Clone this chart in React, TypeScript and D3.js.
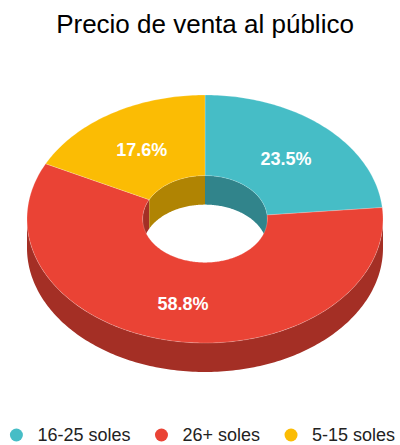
import React, { useEffect, useRef } from "react";
import * as d3 from "d3";

const categories = ["16-25 soles", "26+ soles", "5-15 soles"];
const values = [4, 10, 3];
const colors = ["#46BDC6", "#EA4335", "#FBBC04"];
const title = "Precio de venta al público";

const W = 400;
const H = 445;
const CX = 205;
const CY = 219;
const RX = 178;
const RY = 124;
const DEPTH = 29;
const INNER = 0.35;
const FONT = "'Liberation Sans', Arial, Helvetica, sans-serif";

function pt(a: number, rx: number, ry: number, dy: number): [number, number] {
  return [CX + rx * Math.sin(a), CY - ry * Math.cos(a) + dy];
}

function arcPts(a0: number, a1: number, rx: number, ry: number, dy: number) {
  const n = Math.max(2, Math.ceil(Math.abs(a1 - a0) / (Math.PI / 180)));
  const out: [number, number][] = [];
  for (let i = 0; i <= n; i++) {
    const a = a0 + ((a1 - a0) * i) / n;
    out.push(pt(a, rx, ry, dy));
  }
  return out;
}

const line = d3.line();

function bandPath(a0: number, a1: number, rxA: number, ryA: number, dyA: number, rxB: number, ryB: number, dyB: number) {
  const p = arcPts(a0, a1, rxA, ryA, dyA).concat(arcPts(a1, a0, rxB, ryB, dyB));
  return line(p) + "Z";
}

export default function App() {
  const ref = useRef<SVGSVGElement>(null);

  useEffect(() => {
    const svg = d3.select(ref.current);
    svg.selectAll("*").remove();

    const total = d3.sum(values);
    const pie = d3.pie<number>().sort(null).startAngle(0).endAngle(2 * Math.PI);
    const arcs = pie(values);
    const darker = (c: string) => {
      const k = d3.rgb(c);
      return d3.rgb(k.r * 0.7, k.g * 0.7, k.b * 0.7).toString();
    };

    const rxi = RX * INNER;
    const ryi = RY * INNER;

    const g = svg.append("g");
    // inner back walls
    arcs.forEach((d, i) => {
      const ranges: [number, number][] = [
        [0, Math.PI / 2],
        [1.5 * Math.PI, 2 * Math.PI],
      ];
      ranges.forEach(([r0, r1]) => {
        const a0 = Math.max(d.startAngle, r0);
        const a1 = Math.min(d.endAngle, r1);
        if (a1 > a0) {
          g.append("path")
            .attr("d", bandPath(a0, a1, rxi, ryi, 0, rxi, ryi, DEPTH))
            .attr("fill", darker(colors[i]));
        }
      });
    });

    // outer front walls
    arcs.forEach((d, i) => {
      const a0 = Math.max(d.startAngle, Math.PI / 2);
      const a1 = Math.min(d.endAngle, 1.5 * Math.PI);
      if (a1 > a0) {
        g.append("path")
          .attr("d", bandPath(a0, a1, RX, RY, 0, RX, RY, DEPTH))
          .attr("fill", darker(colors[i]));
      }
    });

    // top surfaces
    arcs.forEach((d, i) => {
      g.append("path")
        .attr("d", bandPath(d.startAngle, d.endAngle, RX, RY, 0, rxi, ryi, 0))
        .attr("fill", colors[i])
        .attr("stroke", "rgba(255,255,255,0.35)")
        .attr("stroke-width", 0.6);
    });

    // labels
    const lf = (1 + INNER) / 2;
    arcs.forEach((d, i) => {
      const m = (d.startAngle + d.endAngle) / 2;
      const [x, y] = pt(m, RX * lf, RY * lf, 0);
      g.append("text")
        .attr("x", x)
        .attr("y", y)
        .attr("dy", "0.46em")
        .attr("text-anchor", "middle")
        .attr("font-family", FONT)
        .attr("font-weight", "bold")
        .attr("font-size", 18)
        .attr("fill", "#fff")
        .text(d3.format(".1%")(values[i] / total));
    });

    // title
    svg.append("text")
      .attr("x", 205)
      .attr("y", 33)
      .attr("text-anchor", "middle")
      .attr("font-family", FONT)
      .attr("font-size", 26)
      .attr("fill", "#000")
      .text(title);

    // legend
    const lg = svg.append("g");
    const items = categories.map((c, i) => {
      const it = lg.append("g");
      it.append("circle").attr("cx", 0).attr("cy", 435).attr("r", 6.5).attr("fill", colors[i]);
      const t = it.append("text")
        .attr("x", 21)
        .attr("y", 441)
        .attr("font-family", FONT)
        .attr("font-size", 18)
        .attr("fill", "#222")
        .text(c);
      const w = (t.node() as SVGTextElement).getComputedTextLength();
      return { it, w };
    });
    let totalW = 0;
    items.forEach((d, i) => {
      totalW += 6.5 + 21 + d.w + (i < items.length - 1 ? 31 - 6.5 : 0);
    });
    let x = 202.5 - totalW / 2 + 6.5;
    items.forEach((d) => {
      d.it.attr("transform", `translate(${x},0)`);
      x += 21 + d.w + 31;
    });
  }, []);

  return (
    <svg
      ref={ref}
      width={W}
      height={H}
      style={{ position: "absolute", left: 0, top: 0, background: "#fff" }}
    />
  );
}
